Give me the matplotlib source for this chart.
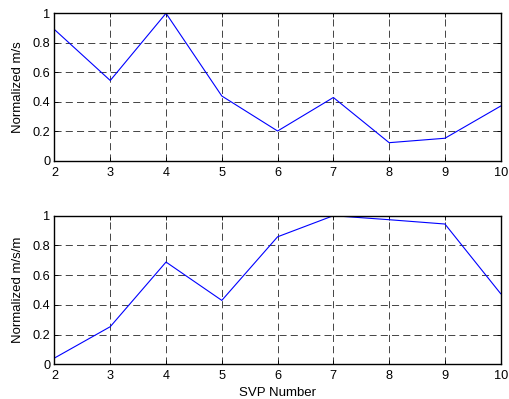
import numpy as np
import matplotlib
matplotlib.use("Agg")
import matplotlib.pyplot as plt
from matplotlib.ticker import FuncFormatter

plt.rcParams['font.family'] = ['Liberation Sans', 'DejaVu Sans']

# data
svp = [2, 3, 4, 5, 6, 7, 8, 9, 10]
norm_ms = [0.89, 0.545, 1.0, 0.44, 0.203, 0.43, 0.124, 0.154, 0.372]
norm_msm = [0.042, 0.253, 0.688, 0.43, 0.858, 1.0, 0.973, 0.944, 0.475]

yticks = [0, 0.2, 0.4, 0.6, 0.8, 1]
xticks = svp

fig = plt.figure(figsize=(5.09, 3.99), dpi=100)
ax1 = fig.add_axes([0.107, 0.5965, 0.8767, 0.3702])
ax2 = fig.add_axes([0.107, 0.0870, 0.8767, 0.3724])

fmt = FuncFormatter(lambda v, p: f'{v:g}')

for ax, vals, lab in [(ax1, norm_ms, 'Normalized m/s'), (ax2, norm_msm, 'Normalized m/s/m')]:
    ax.plot(svp, vals, color='blue', lw=0.8)
    ax.set_xlim(2, 10)
    ax.set_ylim(0, 1)
    ax.set_xticks(xticks)
    ax.set_yticks(yticks)
    ax.yaxis.set_major_formatter(fmt)
    ax.grid(True, color='black', linestyle=(0, (8.5, 5)), linewidth=0.6, alpha=0.85)
    ax.tick_params(direction='in', length=3, width=0.6, labelsize=9.2, pad=3,
                   top=True, right=True)
    ax.tick_params(axis='x', pad=4)
    for s in ax.spines.values():
        s.set_linewidth(1.0)
    ax.set_ylabel(lab, fontsize=9.5, labelpad=6)

ax2.set_xlabel('SVP Number', fontsize=9.5, labelpad=4)

fig.savefig('out.png', dpi=100)
